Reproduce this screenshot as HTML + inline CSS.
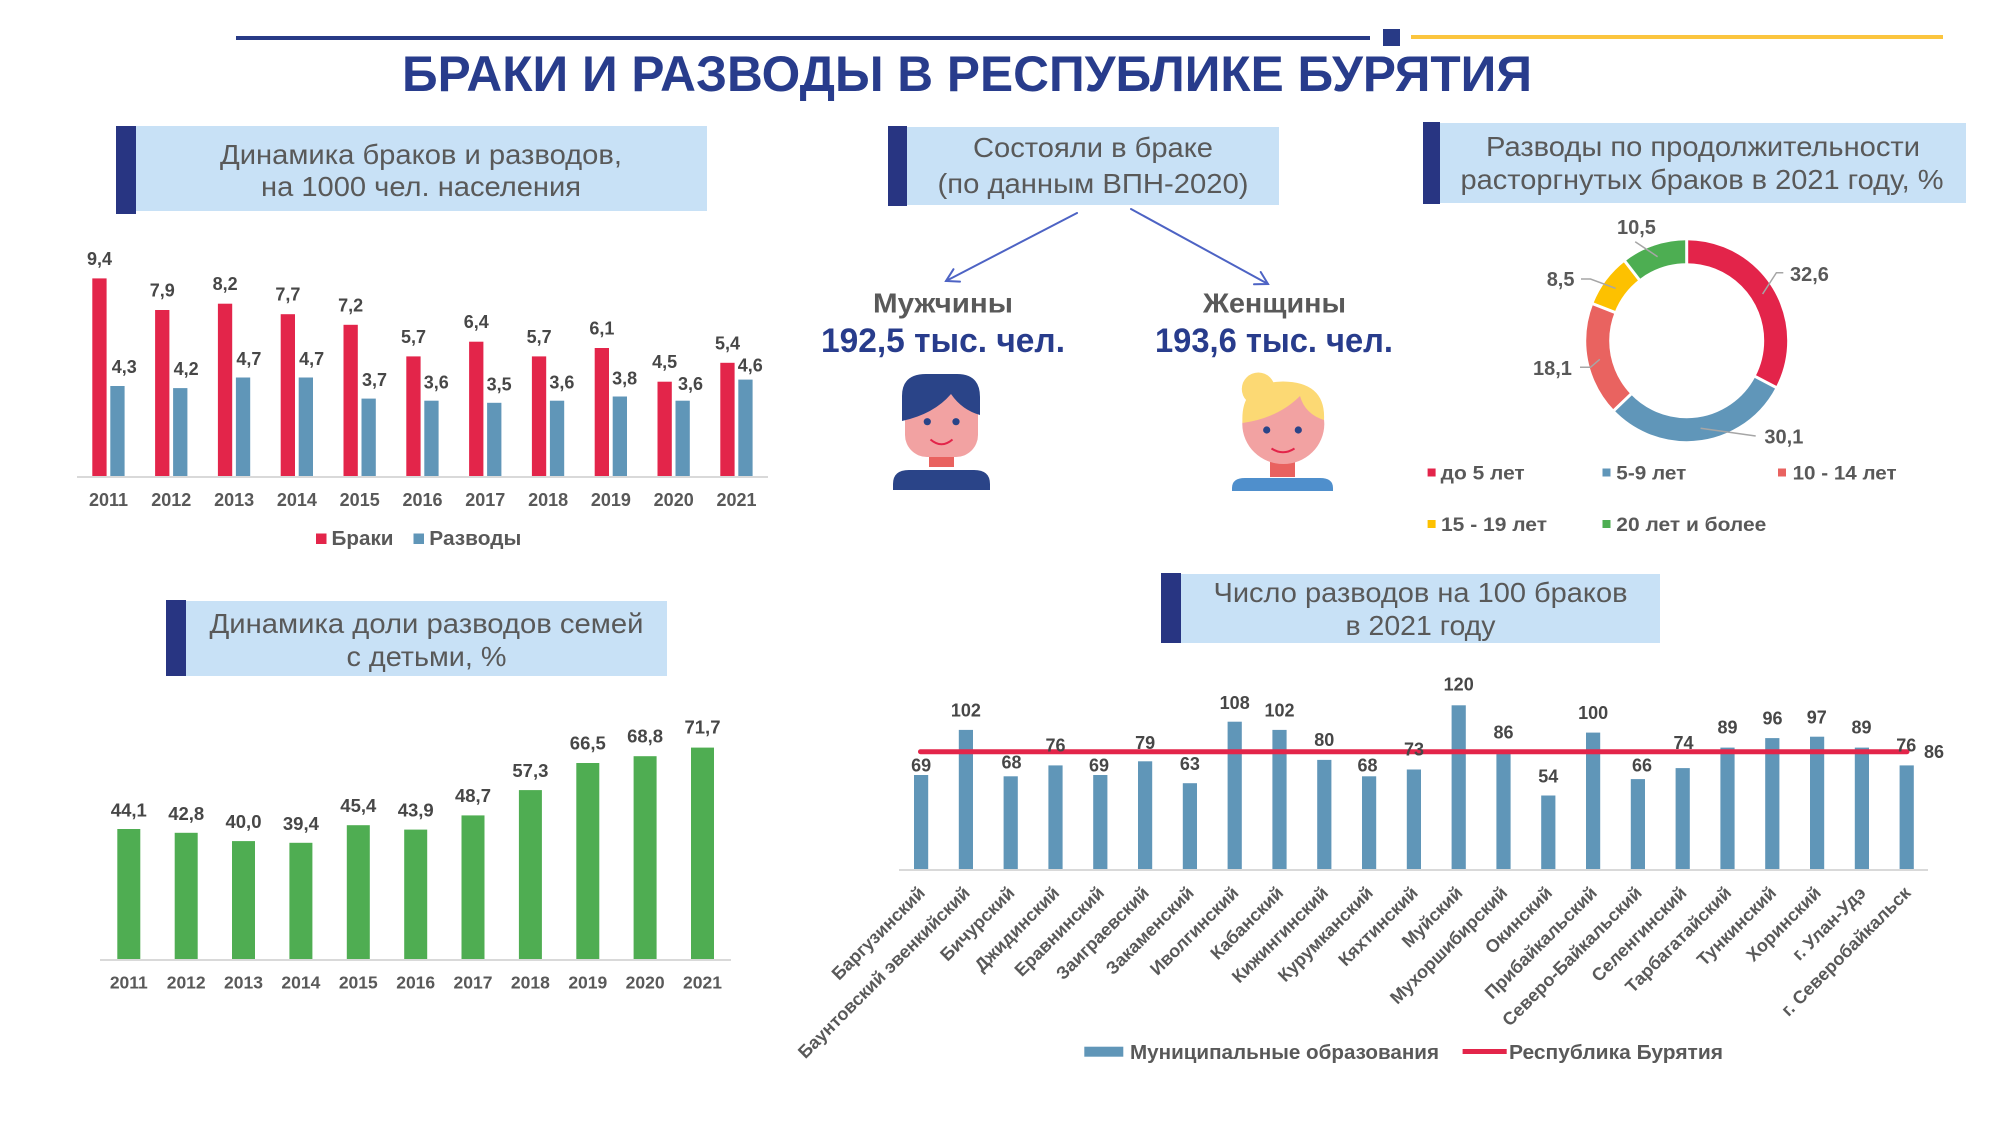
<!DOCTYPE html>
<html>
<head>
<meta charset="utf-8">
<style>
html,body{margin:0;padding:0;background:#fff;}
svg{display:block;}
text{font-family:"Liberation Sans","DejaVu Sans",sans-serif;}
.b{font-weight:bold;}
.v{font-size:18px;font-weight:bold;fill:#474747;text-anchor:middle;}
.y{font-size:18px;font-weight:bold;fill:#595959;text-anchor:middle;}
.bt{font-size:28px;fill:#595959;text-anchor:middle;}
.cat{font-size:18px;font-weight:bold;fill:#595959;text-anchor:end;}
.lg{font-size:19px;font-weight:bold;fill:#595959;}
.dl{font-size:20px;font-weight:bold;fill:#595959;}
</style>
</head>
<body>
<svg width="2000" height="1125" viewBox="0 0 2000 1125" xmlns="http://www.w3.org/2000/svg">
<rect width="2000" height="1125" fill="#fff"/>

<!-- header lines -->
<rect x="236" y="36" width="1134" height="4" fill="#283a86"/>
<rect x="1383" y="29" width="17" height="17" fill="#283a86"/>
<rect x="1411" y="35" width="532" height="4" fill="#fbc53e"/>
<text x="967" y="91" font-size="50" class="b" fill="#283c8c" text-anchor="middle" textLength="1130" lengthAdjust="spacingAndGlyphs">БРАКИ И РАЗВОДЫ В РЕСПУБЛИКЕ БУРЯТИЯ</text>

<!-- Box 1 -->
<rect x="136" y="126" width="571" height="85" fill="#c8e1f6"/>
<rect x="116" y="126" width="20" height="88" fill="#283582"/>
<text x="421" y="164" class="bt" textLength="402" lengthAdjust="spacingAndGlyphs">Динамика браков и разводов,</text>
<text x="421" y="196" class="bt" textLength="320" lengthAdjust="spacingAndGlyphs">на 1000 чел. населения</text>

<!-- Box 2 -->
<rect x="907" y="127" width="372" height="78" fill="#c8e1f6"/>
<rect x="888" y="126" width="19" height="80" fill="#283582"/>
<text x="1093" y="157" class="bt" textLength="240" lengthAdjust="spacingAndGlyphs">Состояли в браке</text>
<text x="1093" y="193" class="bt" textLength="311" lengthAdjust="spacingAndGlyphs">(по данным ВПН-2020)</text>

<!-- Box 3 -->
<rect x="1440" y="123" width="526" height="80" fill="#c8e1f6"/>
<rect x="1423" y="122" width="17" height="82" fill="#283582"/>
<text x="1703" y="156" class="bt" textLength="434" lengthAdjust="spacingAndGlyphs">Разводы по продолжительности</text>
<text x="1702" y="189" class="bt" textLength="483" lengthAdjust="spacingAndGlyphs">расторгнутых браков в 2021 году, %</text>

<!-- Box 4 -->
<rect x="186" y="601" width="481" height="75" fill="#c8e1f6"/>
<rect x="166" y="600" width="20" height="76" fill="#283582"/>
<text x="426.5" y="633" class="bt" textLength="434" lengthAdjust="spacingAndGlyphs">Динамика доли разводов семей</text>
<text x="426.5" y="666" class="bt" textLength="160" lengthAdjust="spacingAndGlyphs">с детьми, %</text>

<!-- Box 5 -->
<rect x="1181" y="574" width="479" height="69" fill="#c8e1f6"/>
<rect x="1161" y="573" width="20" height="70" fill="#283582"/>
<text x="1420.5" y="602" class="bt" textLength="414" lengthAdjust="spacingAndGlyphs">Число разводов на 100 браков</text>
<text x="1420.5" y="635" class="bt" textLength="150" lengthAdjust="spacingAndGlyphs">в 2021 году</text>

<!-- Chart 1: marriages & divorces -->
<g fill="#e3254a">
<rect x="92.3" y="278.4" width="14.3" height="198.3"/>
<rect x="155.1" y="310.0" width="14.3" height="166.7"/>
<rect x="217.9" y="303.7" width="14.3" height="173.0"/>
<rect x="280.7" y="314.2" width="14.3" height="162.5"/>
<rect x="343.5" y="324.8" width="14.3" height="151.9"/>
<rect x="406.3" y="356.4" width="14.3" height="120.3"/>
<rect x="469.1" y="341.7" width="14.3" height="135.0"/>
<rect x="531.9" y="356.4" width="14.3" height="120.3"/>
<rect x="594.7" y="348.0" width="14.3" height="128.7"/>
<rect x="657.5" y="381.7" width="14.3" height="95.0"/>
<rect x="720.3" y="362.8" width="14.3" height="113.9"/>
</g>
<g fill="#6096b8">
<rect x="110.3" y="386.0" width="14.3" height="90.7"/>
<rect x="173.1" y="388.1" width="14.3" height="88.6"/>
<rect x="235.9" y="377.5" width="14.3" height="99.2"/>
<rect x="298.7" y="377.5" width="14.3" height="99.2"/>
<rect x="361.5" y="398.6" width="14.3" height="78.1"/>
<rect x="424.3" y="400.7" width="14.3" height="76.0"/>
<rect x="487.1" y="402.8" width="14.3" height="73.9"/>
<rect x="549.9" y="400.7" width="14.3" height="76.0"/>
<rect x="612.7" y="396.5" width="14.3" height="80.2"/>
<rect x="675.5" y="400.7" width="14.3" height="76.0"/>
<rect x="738.3" y="379.6" width="14.3" height="97.1"/>
</g>
<rect x="77" y="476" width="691" height="2" fill="#d9d9d9"/>
<g class="v">
<text x="99.5" y="265">9,4</text>
<text x="162.3" y="296.5">7,9</text>
<text x="225.1" y="290">8,2</text>
<text x="287.9" y="300.7">7,7</text>
<text x="350.7" y="311.3">7,2</text>
<text x="413.5" y="343">5,7</text>
<text x="476.3" y="328.2">6,4</text>
<text x="539.1" y="343">5,7</text>
<text x="601.9" y="334.5">6,1</text>
<text x="664.7" y="368.2">4,5</text>
<text x="727.5" y="349.3">5,4</text>
<text x="124.3" y="373">4,3</text>
<text x="186.1" y="375">4,2</text>
<text x="248.9" y="365">4,7</text>
<text x="311.7" y="365">4,7</text>
<text x="374.5" y="386">3,7</text>
<text x="436.3" y="388.5">3,6</text>
<text x="499.1" y="390.5">3,5</text>
<text x="561.9" y="388.5">3,6</text>
<text x="624.7" y="384.5">3,8</text>
<text x="690.5" y="390">3,6</text>
<text x="750.3" y="371.5">4,6</text>
</g>
<g class="y">
<text x="108.5" y="506">2011</text>
<text x="171.3" y="506">2012</text>
<text x="234.1" y="506">2013</text>
<text x="296.9" y="506">2014</text>
<text x="359.7" y="506">2015</text>
<text x="422.5" y="506">2016</text>
<text x="485.3" y="506">2017</text>
<text x="548.1" y="506">2018</text>
<text x="610.9" y="506">2019</text>
<text x="673.7" y="506">2020</text>
<text x="736.5" y="506">2021</text>
</g>
<rect x="316" y="533.5" width="10.5" height="10.5" fill="#e3254a"/>
<text x="331.5" y="545" font-size="20" class="b" fill="#595959" textLength="62" lengthAdjust="spacingAndGlyphs">Браки</text>
<rect x="413.5" y="533.5" width="10.5" height="10.5" fill="#6096b8"/>
<text x="429.3" y="545" font-size="20" class="b" fill="#595959" textLength="92" lengthAdjust="spacingAndGlyphs">Разводы</text>

<!-- Chart 2: green -->
<g fill="#4fad52">
<rect x="117.3" y="829.0" width="23" height="130.0"/>
<rect x="174.7" y="832.8" width="23" height="126.2"/>
<rect x="232.0" y="841.1" width="23" height="117.9"/>
<rect x="289.4" y="842.8" width="23" height="116.2"/>
<rect x="346.8" y="825.2" width="23" height="133.8"/>
<rect x="404.2" y="829.6" width="23" height="129.4"/>
<rect x="461.5" y="815.4" width="23" height="143.6"/>
<rect x="518.9" y="790.1" width="23" height="168.9"/>
<rect x="576.3" y="763.0" width="23" height="196.0"/>
<rect x="633.6" y="756.2" width="23" height="202.8"/>
<rect x="691.0" y="747.6" width="23" height="211.4"/>
</g>
<rect x="100" y="959" width="631" height="2" fill="#d9d9d9"/>
<g class="v" style="font-size:18.5px">
<text x="128.8" y="816.5">44,1</text>
<text x="186.2" y="820">42,8</text>
<text x="243.5" y="828">40,0</text>
<text x="300.9" y="830">39,4</text>
<text x="358.3" y="812">45,4</text>
<text x="415.7" y="816.5">43,9</text>
<text x="473.0" y="802">48,7</text>
<text x="530.4" y="777">57,3</text>
<text x="587.8" y="749.5">66,5</text>
<text x="645.1" y="742.5">68,8</text>
<text x="702.5" y="733.5">71,7</text>
</g>
<g class="y" style="font-size:17.5px">
<text x="128.8" y="988.5">2011</text>
<text x="186.2" y="988.5">2012</text>
<text x="243.5" y="988.5">2013</text>
<text x="300.9" y="988.5">2014</text>
<text x="358.3" y="988.5">2015</text>
<text x="415.7" y="988.5">2016</text>
<text x="473.0" y="988.5">2017</text>
<text x="530.4" y="988.5">2018</text>
<text x="587.8" y="988.5">2019</text>
<text x="645.1" y="988.5">2020</text>
<text x="702.5" y="988.5">2021</text>
</g>

<!-- Middle: arrows and people -->
<g stroke="#4d63c4" stroke-width="2" fill="none" stroke-linecap="round">
<line x1="1077" y1="213" x2="946" y2="281"/>
<polyline points="953.5,269.2 946,281 960,281.6"/>
<line x1="1131" y1="209" x2="1268" y2="284"/>
<polyline points="1260.7,272 1268,284 1254,284.3"/>
</g>
<text x="943" y="312.5" font-size="28" class="b" fill="#595959" text-anchor="middle" textLength="140" lengthAdjust="spacingAndGlyphs">Мужчины</text>
<text x="943" y="352" font-size="34" class="b" fill="#283c8c" text-anchor="middle" textLength="244" lengthAdjust="spacingAndGlyphs">192,5 тыс. чел.</text>
<text x="1274.5" y="312.5" font-size="28" class="b" fill="#595959" text-anchor="middle" textLength="143" lengthAdjust="spacingAndGlyphs">Женщины</text>
<text x="1274" y="352" font-size="34" class="b" fill="#283c8c" text-anchor="middle" textLength="238" lengthAdjust="spacingAndGlyphs">193,6 тыс. чел.</text>

<!-- Man icon -->
<rect x="929" y="452" width="25" height="15" fill="#e9625f"/>
<rect x="905" y="384" width="73" height="73" rx="22" ry="22" fill="#f2a2a2"/>
<path d="M902,421 L902,396 Q902,374 926,374 L957,374 Q980,374 980,397 L980,415 Q962,410 951,394 Q934,414 902,421 Z" fill="#2a4488"/>
<circle cx="927.3" cy="421.7" r="3.6" fill="#2a4488"/>
<circle cx="956" cy="421.7" r="3.6" fill="#2a4488"/>
<path d="M930.5,439.5 Q941.5,449 952.5,439.5" stroke="#e3254a" stroke-width="2" fill="none"/>
<path d="M893,490 L893,484 Q893,470 909,470 L974,470 Q990,470 990,484 L990,490 Z" fill="#2a4488"/>

<!-- Woman icon -->
<rect x="1270" y="458" width="25" height="19" fill="#e9625f"/>
<circle cx="1258.3" cy="389" r="16.5" fill="#fcd974"/>
<ellipse cx="1283.3" cy="424" rx="41" ry="40" fill="#f2a2a2"/>
<path d="M1242.5,423 Q1240,382 1283,381.5 Q1326,382 1324,420 Q1305,414 1300,396 Q1278,418 1242.5,423 Z" fill="#fcd974"/>
<circle cx="1266.7" cy="430" r="3.6" fill="#2a4488"/>
<circle cx="1298.3" cy="430" r="3.6" fill="#2a4488"/>
<path d="M1271.5,448.5 Q1283,456 1294.5,448.5" stroke="#e3254a" stroke-width="2" fill="none"/>
<path d="M1232,491 L1232,488 Q1232,478 1245,478 L1320,478 Q1333,478 1333,488 L1333,491 Z" fill="#4f8fcc"/>

<!-- Donut -->
<g transform="rotate(-90 1686.7 340.7)" fill="none" stroke-width="23">
<circle cx="1686.7" cy="340.7" r="89" stroke="#e3244a" stroke-dasharray="182.67 600" stroke-dashoffset="0"/>
<circle cx="1686.7" cy="340.7" r="89" stroke="#6096b9" stroke-dasharray="168.66 600" stroke-dashoffset="-182.67"/>
<circle cx="1686.7" cy="340.7" r="89" stroke="#e96360" stroke-dasharray="101.42 600" stroke-dashoffset="-351.33"/>
<circle cx="1686.7" cy="340.7" r="89" stroke="#fdc100" stroke-dasharray="47.63 600" stroke-dashoffset="-452.75"/>
<circle cx="1686.7" cy="340.7" r="89" stroke="#4dae52" stroke-dasharray="58.83 600" stroke-dashoffset="-500.38"/>
</g>
<g stroke="#fff" stroke-width="3">
<line x1="1686.7" y1="265.7" x2="1686.7" y2="236.7"/>
<line x1="1753.2" y1="375.4" x2="1778.9" y2="388.9"/>
<line x1="1632.6" y1="392.6" x2="1611.6" y2="412.7"/>
<line x1="1616.9" y1="313.2" x2="1589.9" y2="302.6"/>
<line x1="1640.6" y1="281.5" x2="1622.8" y2="258.6"/>
</g>
<g stroke="#a6a6a6" stroke-width="1.5" fill="none">
<polyline points="1783.3,272.7 1776.4,272.7 1762.6,294"/>
<polyline points="1700.6,428.3 1755.7,436"/>
<polyline points="1580,367.3 1590.5,367.3 1599.8,359.3"/>
<polyline points="1581,279 1590.5,279 1615.6,288.3"/>
<polyline points="1635.2,241.7 1657.6,256.7"/>
</g>
<text x="1790" y="281" class="dl">32,6</text>
<text x="1764.4" y="443.5" class="dl">30,1</text>
<text x="1533" y="375" class="dl">18,1</text>
<text x="1546.7" y="286" class="dl">8,5</text>
<text x="1617" y="234" class="dl">10,5</text>

<!-- Donut legend -->
<rect x="1427.6" y="468.5" width="8" height="8" fill="#e3244a"/>
<text x="1440.7" y="479.5" class="lg" textLength="84" lengthAdjust="spacingAndGlyphs">до 5 лет</text>
<rect x="1602.5" y="468.5" width="8" height="8" fill="#6096b9"/>
<text x="1616.3" y="479.5" class="lg" textLength="70" lengthAdjust="spacingAndGlyphs">5-9 лет</text>
<rect x="1778" y="468.5" width="8" height="8" fill="#e96360"/>
<text x="1792.6" y="479.5" class="lg" textLength="104" lengthAdjust="spacingAndGlyphs">10 - 14 лет</text>
<rect x="1427.6" y="520" width="8" height="8" fill="#fdc100"/>
<text x="1441" y="531" class="lg" textLength="106" lengthAdjust="spacingAndGlyphs">15 - 19 лет</text>
<rect x="1602.5" y="520" width="8" height="8" fill="#4dae52"/>
<text x="1616.3" y="531" class="lg" textLength="150" lengthAdjust="spacingAndGlyphs">20 лет и более</text>

<!-- Chart 3 -->
<g fill="#6096b8">
<rect x="914.0" y="775.0" width="14.2" height="94.3"/>
<rect x="958.8" y="729.9" width="14.2" height="139.4"/>
<rect x="1003.6" y="776.3" width="14.2" height="93.0"/>
<rect x="1048.4" y="765.4" width="14.2" height="103.9"/>
<rect x="1093.2" y="775.0" width="14.2" height="94.3"/>
<rect x="1138.0" y="761.3" width="14.2" height="108.0"/>
<rect x="1182.8" y="783.2" width="14.2" height="86.1"/>
<rect x="1227.6" y="721.7" width="14.2" height="147.6"/>
<rect x="1272.4" y="729.9" width="14.2" height="139.4"/>
<rect x="1317.2" y="759.9" width="14.2" height="109.4"/>
<rect x="1362.0" y="776.3" width="14.2" height="93.0"/>
<rect x="1406.8" y="769.5" width="14.2" height="99.8"/>
<rect x="1451.6" y="705.3" width="14.2" height="164.0"/>
<rect x="1496.4" y="751.7" width="14.2" height="117.6"/>
<rect x="1541.2" y="795.5" width="14.2" height="73.8"/>
<rect x="1586.0" y="732.6" width="14.2" height="136.7"/>
<rect x="1630.8" y="779.1" width="14.2" height="90.2"/>
<rect x="1675.6" y="768.1" width="14.2" height="101.2"/>
<rect x="1720.4" y="747.6" width="14.2" height="121.7"/>
<rect x="1765.2" y="738.1" width="14.2" height="131.2"/>
<rect x="1810.0" y="736.7" width="14.2" height="132.6"/>
<rect x="1854.8" y="747.6" width="14.2" height="121.7"/>
<rect x="1899.6" y="765.4" width="14.2" height="103.9"/>
</g>
<rect x="899" y="869" width="1029" height="2" fill="#d9d9d9"/>
<line x1="920.5" y1="751.7" x2="1907" y2="751.7" stroke="#e3254a" stroke-width="5" stroke-linecap="round"/>
<text x="1924" y="758" class="v" style="text-anchor:start">86</text>
<g class="v">
<text x="921.1" y="771.7">69</text>
<text x="965.9" y="716.7">102</text>
<text x="1011.5" y="768.3">68</text>
<text x="1055.5" y="751.7">76</text>
<text x="1099" y="771.7">69</text>
<text x="1145.1" y="749">79</text>
<text x="1189.9" y="770">63</text>
<text x="1234.7" y="709">108</text>
<text x="1279.5" y="716.7">102</text>
<text x="1324.3" y="746">80</text>
<text x="1367.5" y="771.7">68</text>
<text x="1414" y="755.7">73</text>
<text x="1458.7" y="690.7">120</text>
<text x="1503.5" y="738.3">86</text>
<text x="1548.3" y="782.3">54</text>
<text x="1593.1" y="719">100</text>
<text x="1642" y="771.7">66</text>
<text x="1683.5" y="749">74</text>
<text x="1727.5" y="733.3">89</text>
<text x="1772.5" y="724.3">96</text>
<text x="1816.8" y="723.3">97</text>
<text x="1861.5" y="733.3">89</text>
<text x="1906.3" y="751.7">76</text>
</g>
<g class="cat">
<text transform="translate(926.1,894) rotate(-45)">Баргузинский</text>
<text transform="translate(970.9,894) rotate(-45)">Баунтовский эвенкийский</text>
<text transform="translate(1015.7,894) rotate(-45)">Бичурский</text>
<text transform="translate(1060.5,894) rotate(-45)">Джидинский</text>
<text transform="translate(1105.3,894) rotate(-45)">Еравнинский</text>
<text transform="translate(1150.1,894) rotate(-45)">Заиграевский</text>
<text transform="translate(1194.9,894) rotate(-45)">Закаменский</text>
<text transform="translate(1239.7,894) rotate(-45)">Иволгинский</text>
<text transform="translate(1284.5,894) rotate(-45)">Кабанский</text>
<text transform="translate(1329.3,894) rotate(-45)">Кижингинский</text>
<text transform="translate(1374.1,894) rotate(-45)">Курумканский</text>
<text transform="translate(1418.9,894) rotate(-45)">Кяхтинский</text>
<text transform="translate(1463.7,894) rotate(-45)">Муйский</text>
<text transform="translate(1508.5,894) rotate(-45)">Мухоршибирский</text>
<text transform="translate(1553.3,894) rotate(-45)">Окинский</text>
<text transform="translate(1598.1,894) rotate(-45)">Прибайкальский</text>
<text transform="translate(1642.9,894) rotate(-45)">Северо-Байкальский</text>
<text transform="translate(1687.7,894) rotate(-45)">Селенгинский</text>
<text transform="translate(1732.5,894) rotate(-45)">Тарбагатайский</text>
<text transform="translate(1777.3,894) rotate(-45)">Тункинский</text>
<text transform="translate(1822.1,894) rotate(-45)">Хоринский</text>
<text transform="translate(1866.9,894) rotate(-45)">г. Улан-Удэ</text>
<text transform="translate(1911.7,894) rotate(-45)">г. Северобайкальск</text>
</g>
<rect x="1084.3" y="1046.7" width="39" height="10" fill="#6096b8"/>
<text x="1130" y="1059" font-size="20" class="b" fill="#595959" textLength="309" lengthAdjust="spacingAndGlyphs">Муниципальные образования</text>
<line x1="1462.6" y1="1051.5" x2="1506.7" y2="1051.5" stroke="#e3254a" stroke-width="5"/>
<text x="1509" y="1059" font-size="20" class="b" fill="#595959" textLength="214" lengthAdjust="spacingAndGlyphs">Республика Бурятия</text>
</svg>
</body>
</html>
